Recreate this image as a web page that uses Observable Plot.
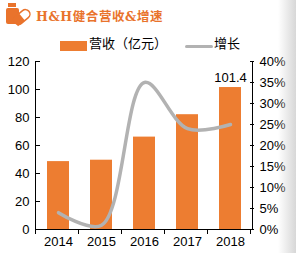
<!DOCTYPE html>
<html><head><meta charset="utf-8">
<script src="https://cdn.jsdelivr.net/npm/d3@7"></script>
<script src="https://cdn.jsdelivr.net/npm/@observablehq/plot@0.6"></script>
<style>
body{margin:0;background:#fff;}
#wrap{position:relative;width:296px;height:253px;overflow:hidden;font-family:"Liberation Sans",Arial,sans-serif;}
#title{position:absolute;left:36px;top:6px;font:700 12.5px "DejaVu Serif","Noto Sans CJK SC";color:#E9732C;letter-spacing:0.6px;}
#icon{position:absolute;left:3px;top:2px;}
#legend{position:absolute;left:0;top:36px;width:296px;height:20px;font:13px "Noto Sans CJK SC";color:#000;}
#chart{position:absolute;left:0;top:50px;}
#shade{position:absolute;left:278px;top:0;width:18px;height:253px;background:linear-gradient(to right,rgba(230,230,230,0),rgba(215,215,215,1));}
</style></head>
<body><div id="wrap">
<svg id="icon" width="30" height="26" viewBox="0 0 30 26">
 <rect x="5" y="1" width="8" height="4" fill="#E9732C"/>
 <rect x="3" y="6" width="13" height="16" rx="2" fill="#E9732C"/>
 <g transform="translate(19,15) rotate(-40)"><rect x="-9" y="-4.5" width="18" height="9" rx="4.5" fill="#fff" stroke="#E9732C" stroke-width="1.5"/><rect x="-9" y="-4.5" width="9" height="9" rx="0" fill="#E9732C"/></g>
</svg>
<div id="title">H&amp;H健合营收&amp;增速</div>
<div id="legend">
 <div style="position:absolute;left:60px;top:5px;width:27px;height:10px;background:#ED7D31"></div>
 <div style="position:absolute;left:89px;top:-3px;">营收（亿元）</div>
 <div style="position:absolute;left:185px;top:9px;width:28px;height:3px;background:#B2B2B2;border-radius:2px"></div>
 <div style="position:absolute;left:214px;top:-3px;">增长</div>
</div>
<div id="chart"></div>
<div id="shade"></div>
</div>
<script>
const years = ["2014","2015","2016","2017","2018"];
const revenue = [48.5, 49.5, 66, 82, 101.4];
const growth = [4, 1, 35, 24, 25];
const leftTicks = [0,20,40,60,80,100,120];
const rightTicks = [0,5,10,15,20,25,30,35,40];
const labelIndex = 4;

const data = years.map((y,i)=>({year:y, rev:revenue[i], g:growth[i]}));
const K = 3; // 40% maps to 120

const axisLines = (index, {x, y}, values, dim) => {
  const g = d3.create("svg:g").attr("stroke","#000").attr("stroke-width",1).attr("fill","none");
  const x0 = dim.marginLeft, x1 = dim.width - dim.marginRight;
  const y0 = y(0), y1 = y(120);
  g.append("line").attr("x1",x0+0.5).attr("x2",x0+0.5).attr("y1",y1).attr("y2",y0);
  g.append("line").attr("x1",x1-0.5).attr("x2",x1-0.5).attr("y1",y1).attr("y2",y0);
  g.append("line").attr("x1",x0).attr("x2",x1).attr("y1",y0+0.5).attr("y2",y0+0.5);
  const step = x.step();
  for (let i=0;i<=years.length;i++){
    const xx = Math.round(x0 + i*step)+0.5;
    g.append("line").attr("x1",xx).attr("x2",xx).attr("y1",y0).attr("y2",y0+5);
  }
  return g.node();
};

const plot = Plot.plot({
  width:296, height:203,
  marginLeft:35, marginRight:43, marginTop:11, marginBottom:24,
  style:{fontFamily:"'Liberation Sans',Arial,sans-serif", fontSize:"13px", color:"#000", background:"transparent"},
  x:{domain:years, paddingInner:0.5, paddingOuter:0.25, align:0.5, label:null},
  y:{domain:[0,120], label:null},
  marks:[
    Plot.barY(data,{x:"year", y:"rev", fill:"#ED7D31"}),
    Plot.line(data,{x:"year", y:d=>d.g*K, stroke:"#B2B2B2", strokeWidth:3.5, curve:"catmull-rom"}),
    Plot.text(data.filter((d,i)=>i===labelIndex),{x:"year", y:"rev", text:d=>String(d.rev), dy:-10, fontSize:13}),
    Plot.axisY({anchor:"left", ticks:leftTicks, tickSize:-5, tickPadding:11, label:null, fontSize:13}),
    Plot.axisY({anchor:"right", ticks:rightTicks.map(v=>v*K), tickFormat:d=>(d/K)+"%", tickSize:-4, tickPadding:10, label:null, fontSize:13}),
    Plot.axisX({tickSize:0, tickPadding:7, label:null, fontSize:13}),
    axisLines
  ]
});
document.getElementById("chart").appendChild(plot);
</script>
</body></html>
